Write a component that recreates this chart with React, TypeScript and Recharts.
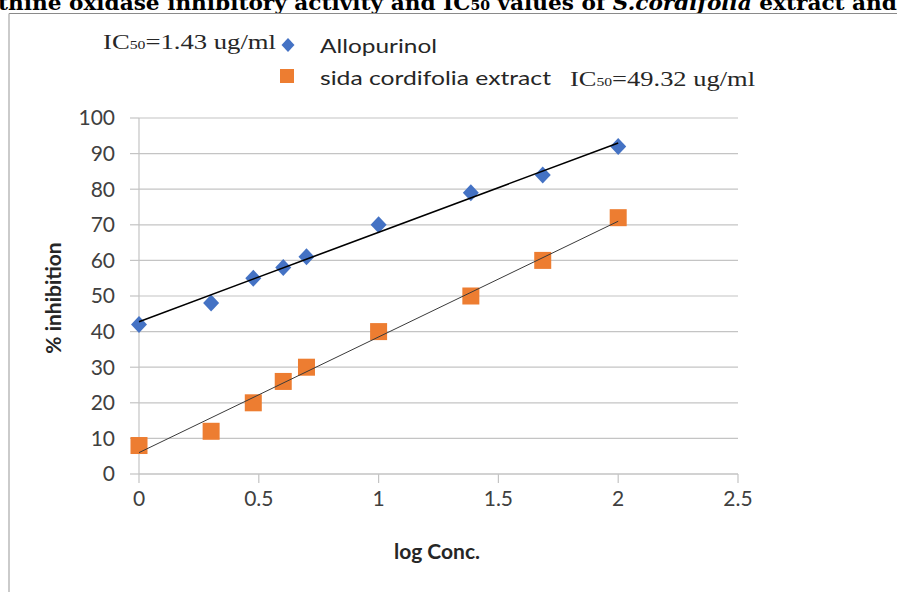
import React from 'react';
import { ScatterChart, Scatter, XAxis, YAxis, CartesianGrid } from 'recharts';

const logConc = [0, 0.301, 0.477, 0.602, 0.699, 1, 1.385, 1.685, 2];
const allopurinolInhibition = [42, 48, 55, 58, 61, 70, 79, 84, 92];
const extractInhibition = [8, 12, 20, 26, 30, 40, 50, 60, 72];
const xTicks = [0, 0.5, 1, 1.5, 2, 2.5];
const yTicks = [0, 10, 20, 30, 40, 50, 60, 70, 80, 90, 100];
const allopurinolTrendX = [0, 2];
const allopurinolTrendY = [42.8, 93];
const extractTrendX = [0, 2];
const extractTrendY = [6, 71];
const seriesNames = ['Allopurinol', 'sida cordifolia extract'];
const ic50Values = ['=1.43 ug/ml', '=49.32 ug/ml'];

const BLUE = '#4472C4';
const ORANGE = '#ED7D31';
const GRID = '#c4c4c4';
const TEXT = '#262626';

const toPoints = (xs: number[], ys: number[]) => xs.map((x, i) => ({ x, y: ys[i] }));
const allopurinolData = toPoints(logConc, allopurinolInhibition);
const extractData = toPoints(logConc, extractInhibition);
const allopurinolTrend = toPoints(allopurinolTrendX, allopurinolTrendY);
const extractTrend = toPoints(extractTrendX, extractTrendY);

const Diamond = (props: any) => {
  const { cx, cy } = props;
  const w = 8, h = 8.5;
  return <polygon points={`${cx},${cy - h} ${cx + w},${cy} ${cx},${cy + h} ${cx - w},${cy}`} fill={BLUE} />;
};
const Square = (props: any) => {
  const { cx, cy } = props;
  const s = 17;
  return <rect x={cx - s / 2} y={cy - s / 2} width={s} height={s} fill={ORANGE} />;
};
const NoShape = () => <g />;

const tickStyle = { fill: '#404040', fontSize: 21, fontFamily: 'Lato, "Open Sans", sans-serif' };

export default function App() {
  return (
    <div style={{ position: 'absolute', left: 0, top: 0, width: 897, height: 592, background: '#fff' }}>
      <ScatterChart width={897} height={592} margin={{ top: 118, right: 159, left: 79, bottom: 88 }}>
        <CartesianGrid vertical={false} stroke={GRID} strokeWidth={1.2} />
        <XAxis
          type="number"
          dataKey="x"
          domain={[0, 2.5]}
          ticks={xTicks}
          height={30}
          axisLine={{ stroke: GRID, strokeWidth: 1.2 }}
          tickLine={{ stroke: GRID, strokeWidth: 1.2 }}
          tickSize={9}
          tickMargin={8}
          tick={tickStyle}
        />
        <YAxis
          type="number"
          dataKey="y"
          domain={[0, 100]}
          ticks={yTicks}
          width={60}
          axisLine={{ stroke: GRID, strokeWidth: 1.2 }}
          tickLine={{ stroke: GRID, strokeWidth: 1.2 }}
          tickSize={9}
          tickMargin={15}
          tick={tickStyle}
        />
        <Scatter name={seriesNames[0]} data={allopurinolData} shape={Diamond} isAnimationActive={false} />
        <Scatter name={seriesNames[1]} data={extractData} shape={Square} isAnimationActive={false} />
        <Scatter data={allopurinolTrend} shape={NoShape} line={{ stroke: '#000', strokeWidth: 1.6 }} isAnimationActive={false} />
        <Scatter data={extractTrend} shape={NoShape} line={{ stroke: '#3a3a3a', strokeWidth: 1 }} isAnimationActive={false} />
      </ScatterChart>
      <svg width={897} height={592} style={{ position: 'absolute', left: 0, top: 0, pointerEvents: 'none' }}>
        <text x={-2} y={10} fontFamily='"DejaVu Serif", serif' fontWeight="bold" fontSize={20} fill="#000" textLength={899} lengthAdjust="spacingAndGlyphs">
          thine oxidase inhibitory activity and IC<tspan fontSize={13}>50</tspan> values of <tspan fontStyle="italic">S.cordifolia</tspan> extract and
        </text>
        <line x1={9} y1={13.5} x2={897} y2={13.5} stroke="#8a8a8a" strokeWidth={1.2} />
        <line x1={9} y1={13.5} x2={9} y2={592} stroke="#a8a8a8" strokeWidth={1.2} />

        <text x={103} y={49} fontFamily='"Liberation Serif", serif' fontSize={22} fill={TEXT} textLength={173} lengthAdjust="spacingAndGlyphs">
          IC<tspan fontSize={13}>50</tspan>{ic50Values[0]}
        </text>
        <polygon points="288,38 294.5,45 288,52 281.5,45" fill={BLUE} />
        <text x={320} y={53} fontFamily='Lato, "Open Sans", sans-serif' fontSize={20} fill={TEXT} textLength={117} lengthAdjust="spacingAndGlyphs">
          {seriesNames[0]}
        </text>
        <rect x={280} y={69} width={14} height={14} fill={ORANGE} />
        <text x={320} y={85} fontFamily='Lato, "Open Sans", sans-serif' fontSize={20} fill={TEXT} textLength={231} lengthAdjust="spacingAndGlyphs">
          {seriesNames[1]}
        </text>
        <text x={570} y={86} fontFamily='"Liberation Serif", serif' fontSize={22} fill={TEXT} textLength={185} lengthAdjust="spacingAndGlyphs">
          IC<tspan fontSize={13}>50</tspan>{ic50Values[1]}
        </text>

        <text x={52} y={298} transform="rotate(-90 52 298)" textAnchor="middle" dominantBaseline="central" fontFamily='Lato, "Open Sans", sans-serif' fontWeight="bold" fontSize={21} fill={TEXT}>
          % inhibition
        </text>
        <text x={437} y={550} textAnchor="middle" dominantBaseline="central" fontFamily='Lato, "Open Sans", sans-serif' fontWeight="bold" fontSize={21} fill={TEXT}>
          log Conc.
        </text>
      </svg>
    </div>
  );
}
